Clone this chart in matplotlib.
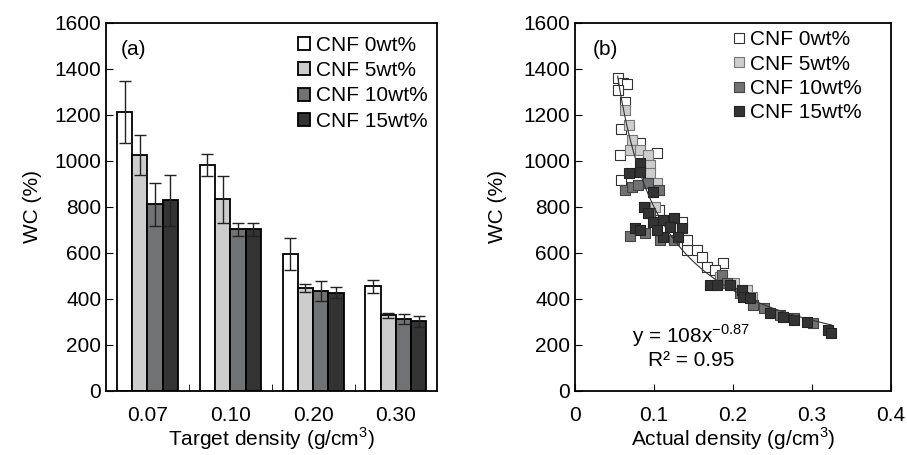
import numpy as np
from matplotlib import pyplot as plt
from matplotlib.patches import Patch
from matplotlib.lines import Line2D

plt.rcParams['font.family'] = ['Liberation Sans', 'DejaVu Sans']
plt.rcParams['font.size'] = 15

# ---- panel (a): bar chart ----
densities = ["0.07", "0.10", "0.20", "0.30"]
labels = ["CNF 0wt%", "CNF 5wt%", "CNF 10wt%", "CNF 15wt%"]
colors = ["#ffffff", "#cdcdcd", "#707274", "#333333"]

wc_0  = [1212, 983, 597, 455]
wc_5  = [1026, 833, 449, 329]
wc_10 = [812, 703, 435, 313]
wc_15 = [829, 703, 428, 303]
err_0  = [134, 49, 70, 29]
err_5  = [88, 102, 18, 12]
err_10 = [94, 29, 43, 22]
err_15 = [112, 29, 24, 23]

# ---- panel (b): scatter ----
x0 = [0.055, 0.061, 0.066, 0.054, 0.063, 0.082, 0.058, 0.057, 0.104, 0.058,
      0.106, 0.135, 0.142, 0.154, 0.161, 0.167, 0.187, 0.177, 0.142]
y0 = [1360, 1340, 1335, 1309, 1258, 1077, 1138, 1026, 1033, 917,
      787, 736, 613, 613, 584, 540, 555, 526, 655]
x5 = [0.063, 0.068, 0.072, 0.070, 0.082, 0.093, 0.095, 0.095, 0.104, 0.120,
      0.184, 0.201, 0.218, 0.224, 0.101, 0.104]
y5 = [1222, 1157, 1091, 1048, 1048, 1026, 983, 946, 874, 743,
      497, 468, 439, 410, 801, 903]
x10 = [0.063, 0.072, 0.080, 0.093, 0.106, 0.070, 0.089, 0.108, 0.125, 0.095,
       0.186, 0.192, 0.209, 0.226, 0.239, 0.260, 0.277, 0.302]
y10 = [874, 888, 896, 903, 874, 674, 686, 657, 657, 773,
       505, 468, 425, 374, 360, 330, 316, 294]
x15 = [0.082, 0.068, 0.082, 0.099, 0.087, 0.093, 0.076, 0.082, 0.099, 0.112,
       0.125, 0.135, 0.112, 0.131, 0.104, 0.120, 0.171, 0.180, 0.196, 0.211,
       0.213, 0.222, 0.247, 0.264, 0.277, 0.294, 0.321, 0.325]
y15 = [990, 949, 953, 867, 801, 773, 707, 700, 736, 743,
       750, 707, 671, 671, 700, 714, 461, 461, 461, 439,
       410, 403, 338, 323, 309, 301, 265, 250]

fit_a, fit_b = 108, -0.87

fig = plt.figure(figsize=(9.07, 4.55), dpi=100)
ax1 = fig.add_axes([0.1169, 0.1407, 0.3653, 0.8088])
ax2 = fig.add_axes([0.634, 0.1407, 0.348, 0.8088])

pos = np.arange(len(densities))
w = 0.184
series = [(wc_0, err_0), (wc_5, err_5), (wc_10, err_10), (wc_15, err_15)]
for i, (vals, errs) in enumerate(series):
    ax1.bar(pos + (i - 1.5) * w, vals, w, yerr=errs, color=colors[i],
            edgecolor="black", linewidth=1.3, capsize=4,
            error_kw=dict(elinewidth=1, capthick=1, ecolor="#222222"))

ax1.set_xlim(-0.5, 3.5)
ax1.set_ylim(0, 1600)
ax1.set_xticks(pos)
ax1.set_xticklabels(densities)
ax1.set_xticks(np.arange(0.5, 3.0, 1.0), minor=True)
ax1.tick_params(axis="x", which="major", length=0, pad=11)
ax1.tick_params(axis="x", which="minor", direction="in", length=5)
ax1.tick_params(axis="y", direction="in", length=5)
ax1.set_ylabel("WC (%)", labelpad=9)
ax1.set_xlabel("Target density (g/cm$^{\\mathregular{3}}$)", labelpad=0)
ax1.text(0.045, 0.955, "(a)", transform=ax1.transAxes, va="top")
handles = [Patch(facecolor=c, edgecolor="black", linewidth=1.3) for c in colors]
ax1.legend(handles, labels, loc="upper right", bbox_to_anchor=(1.02, 1.01),
           frameon=False, handlelength=0.6, handleheight=0.6,
           handletextpad=0.25, labelspacing=0.3, borderpad=0.3)

edge_cols = ["#333333", "#777777", "#444444", "#222222"]
for xs, ys, c, ec in zip([x0, x5, x10, x15], [y0, y5, y10, y15], colors, edge_cols):
    ax2.scatter(xs, ys, marker="s", s=42, facecolor=c, edgecolor=ec,
                linewidth=0.8, zorder=2)

xf = np.linspace(min(x0), max(x15), 200)
ax2.plot(xf, fit_a * xf ** fit_b, color="#333333", linewidth=0.8, zorder=3)

ax2.set_xlim(0, 0.4)
ax2.set_ylim(0, 1600)
ax2.set_xticks([0, 0.1, 0.2, 0.3, 0.4])
ax2.set_xticklabels(["0", "0.1", "0.2", "0.3", "0.4"])
ax2.set_yticks(np.arange(0, 1601, 200))
ax2.tick_params(direction="in", length=5)
ax2.tick_params(axis="x", pad=11)
ax2.set_ylabel("WC (%)", labelpad=12)
ax2.set_xlabel("Actual density (g/cm$^{\\mathregular{3}}$)", labelpad=0)
ax2.text(0.055, 0.955, "(b)", transform=ax2.transAxes, va="top")
ax2.text(0.147, 195, "y = 108x$^{\\mathregular{-0.87}}$\nR² = 0.95",
         ha="center", va="center", multialignment="center", linespacing=1.15)
mh = [Line2D([], [], marker="s", linestyle="none", markersize=7,
             markerfacecolor=c, markeredgecolor=ec, markeredgewidth=0.8)
      for c, ec in zip(colors, edge_cols)]
ax2.legend(mh, labels, loc="upper right", bbox_to_anchor=(0.96, 1.025),
           frameon=False, handlelength=0.6, handletextpad=0.2,
           labelspacing=0.25, borderpad=0.3)

for ax in (ax1, ax2):
    for s in ax.spines.values():
        s.set_linewidth(1.3)

fig.savefig("out.png", dpi=100)
